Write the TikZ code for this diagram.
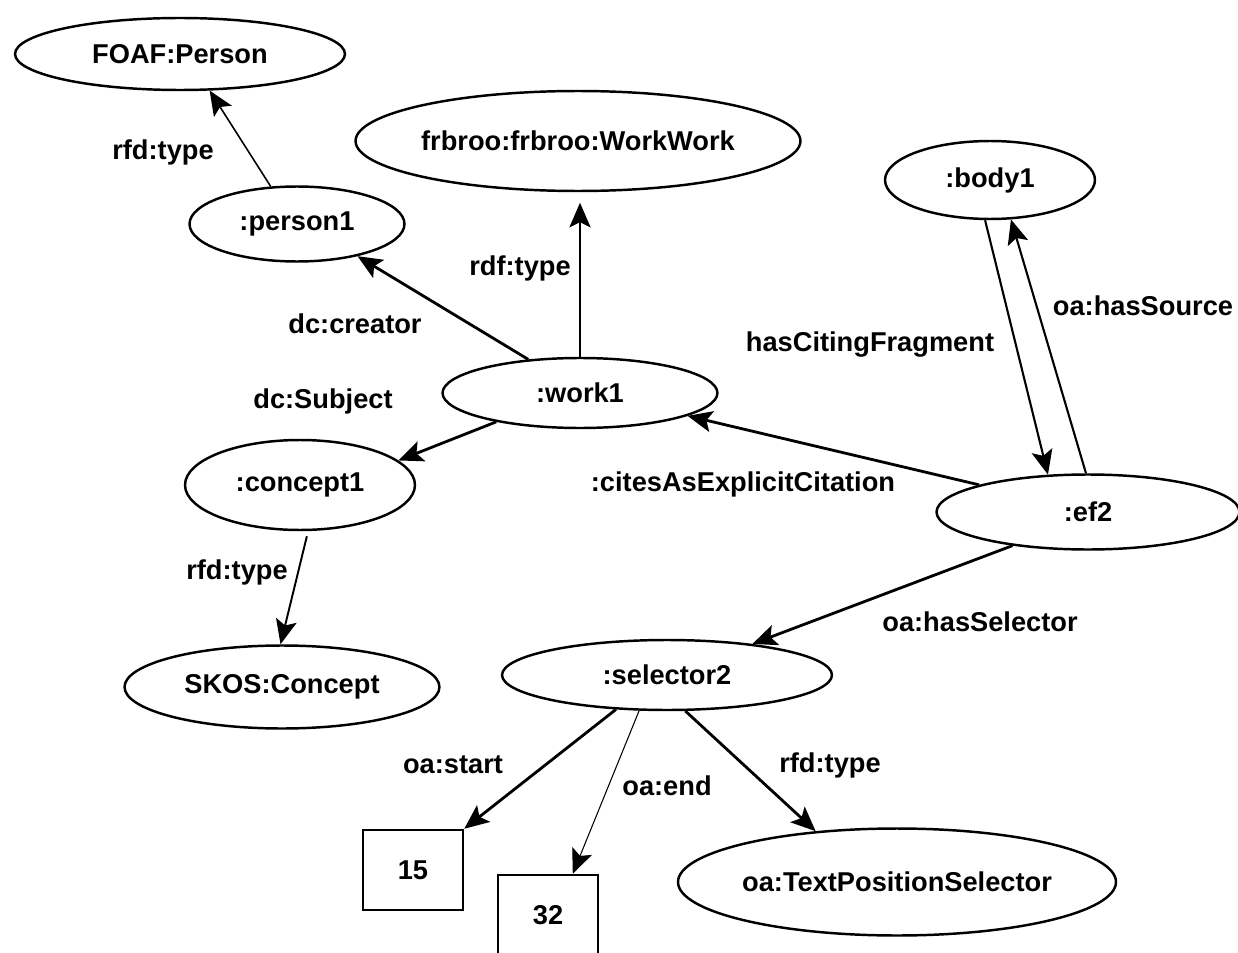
\documentclass[tikz,border=0pt]{standalone}
\usepackage{fontspec}
\setmainfont{Liberation Sans}
\usetikzlibrary{shapes.geometric,arrows.meta}

\begin{document}
\begin{tikzpicture}[x=0.02cm,y=-0.02cm,%
        font=\bfseries\fontsize{15.5}{18}\selectfont,
        res/.style={ellipse, draw, line width=1.4pt, inner sep=0pt},
        lit/.style={rectangle, draw, line width=1.4pt,%
                        minimum width=2cm, minimum height=1.6cm},
        pr/.style={-{Stealth[length=14pt,width=12pt,inset=3pt]}, line width=1.6pt},
        prthin/.style={pr, line width=0.9pt},
        lab/.style={inner sep=1pt}]
\useasboundingbox (0,0) rectangle (1238,953);
            \node[res, minimum width=6.6cm, minimum height=1.44cm] (foaf) at (180,54) {FOAF:Person};
            \node[res, minimum width=8.9cm, minimum height=2cm] (frbroo) at (578,141) {frbroo:frbroo:WorkWork};
            \node[res, minimum width=4.3cm, minimum height=1.5cm] (person) at (297,224) {:person1};
            \node[res, minimum width=4.2cm, minimum height=1.56cm] (body) at (990,180) {:body1};
            \node[res, minimum width=5.5cm, minimum height=1.4cm] (work) at (580,393) {:work1};
            \node[res, minimum width=4.6cm, minimum height=1.8cm] (concept) at (300,485) {:concept1};
            \node[res, minimum width=6.06cm, minimum height=1.5cm] (ef) at (1088,512) {:ef2};
            \node[res, minimum width=6.6cm, minimum height=1.4cm] (sel) at (667,675) {:selector2};
            \node[res, minimum width=6.3cm, minimum height=1.66cm] (skos) at (282,687) {SKOS:Concept};
            \node[res, minimum width=8.7cm, minimum height=2.14cm] (tps) at (897,882) {oa:TextPositionSelector};
            \node[lit] (start) at (413,870) {15};
            \node[lit] (end) at (548,915) {32};

            \draw[prthin] (person.125) -- (foaf.-51);
            \draw[pr] (work.147) -- (person.-28);
            \draw[pr, shorten >=6pt] (work.north) -- (work.north |- frbroo.south);
            \draw[pr] (work.-161) -- (concept.14);
            \draw[pr] (ef.166) -- (work.-12);
            \draw[pr, line width=1.2pt] (body.-97) -- (ef.137);
            \draw[pr, line width=1.2pt] (ef.93) -- (body.-62);
            \draw[prthin, line width=1.1pt, shorten <=3pt] (concept.-80) -- (skos.92);
            \draw[pr] (ef.-156) -- (sel.20);
            \draw[pr] (sel.-146) -- (start.north east);
            \draw[prthin, line width=0.6pt] (sel.-128) -- (end.59);
            \draw[pr] (sel.-63) -- (tps.148);

            \node[lab] (l1) at (163,152) {rfd:type};
            \node[lab] (l2) at (520,268) {rdf:type};
            \node[lab] (l3) at (355,324) {dc:creator};
            \node[lab] (l4) at (323,401) {dc:Subject};
            \node[lab] (l5) at (870,345) {hasCitingFragment};
            \node[lab] (l6) at (1143,306) {oa:hasSource};
            \node[lab] (l7) at (743,484) {:citesAsExplicitCitation};
            \node[lab] (l8) at (237,572) {rfd:type};
            \node[lab] (l9) at (980,622) {oa:hasSelector};
            \node[lab] (l10) at (453,765) {oa:start};
            \node[lab] (l11) at (667,786) {oa:end};
            \node[lab] (l12) at (830,765) {rfd:type};
\end{tikzpicture}
\end{document}
